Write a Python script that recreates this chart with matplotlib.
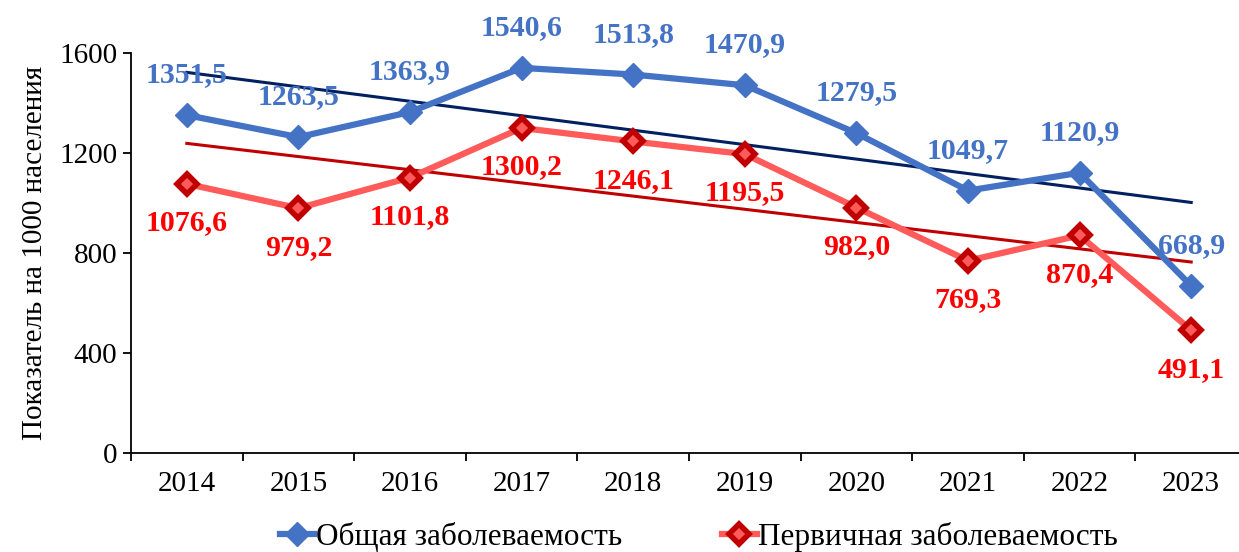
import numpy as np
import matplotlib.pyplot as plt
from matplotlib.ticker import FixedLocator

plt.rcParams['font.family'] = ['Liberation Serif', 'DejaVu Serif']

years = ['2014', '2015', '2016', '2017', '2018', '2019', '2020', '2021', '2022', '2023']
total = [1351.5, 1263.5, 1363.9, 1540.6, 1513.8, 1470.9, 1279.5, 1049.7, 1120.9, 668.9]
primary = [1076.6, 979.2, 1101.8, 1300.2, 1246.1, 1195.5, 982.0, 769.3, 870.4, 491.1]
yticks = [0, 400, 800, 1200, 1600]

blue = '#4472C4'
red_line = '#FF5B5B'
red_dark = '#C00000'

x = np.arange(len(years))

fig = plt.figure(figsize=(12.39, 5.52), dpi=100)
ax = fig.add_axes([131/1239, 1 - 453/552, 1116/1239, 400/552])

# trend lines
for vals, col in [(total, '#002060'), (primary, red_dark)]:
    k, b = np.polyfit(x, vals, 1)
    ax.plot(x, k*x + b, color=col, lw=2.2, zorder=2)

ax.plot(x, total, color=blue, lw=4.5, marker='D', ms=12, mfc=blue, mec=blue,
        mew=1, label='Общая заболеваемость', zorder=3)
ax.plot(x, primary, color=red_line, lw=4.5, marker='D', ms=10.5, mfc=red_line, mec=red_dark,
        mew=4, label='Первичная заболеваемость', zorder=3)

for i in range(len(years)):
    ax.annotate(f'{total[i]:.1f}'.replace('.', ','), (x[i], total[i]), xytext=(0, 29),
                textcoords='offset points', ha='center', va='center',
                fontsize=21.5, fontweight='bold', color=blue, annotation_clip=False)
    ax.annotate(f'{primary[i]:.1f}'.replace('.', ','), (x[i], primary[i]), xytext=(0, -28),
                textcoords='offset points', ha='center', va='center',
                fontsize=21.5, fontweight='bold', color='#FF0000', annotation_clip=False)

ax.set_xlim(-0.5, len(years) - 0.5)
ax.set_ylim(0, 1600)
ax.set_yticks(yticks)
ax.set_xticks(x)
ax.set_xticklabels(years)
ax.xaxis.set_minor_locator(FixedLocator(np.arange(-0.5, len(years), 1)))
ax.tick_params(axis='x', which='major', length=0, pad=13, labelsize=21)
ax.tick_params(axis='x', which='minor', length=6, width=1.3, direction='out')
ax.tick_params(axis='y', length=6, width=1.3, direction='out', labelsize=21, pad=4)
for s in ['top', 'right']:
    ax.spines[s].set_visible(False)
for s in ['left', 'bottom']:
    ax.spines[s].set_linewidth(1.3)
ax.set_ylabel('Показатель на 1000 населения', fontsize=21, labelpad=8)

ax.legend(loc='center', bbox_to_anchor=(0.5 + 10/1116, -0.21), ncol=2, frameon=False,
          fontsize=22.5, handlelength=1.1, handletextpad=0.05, columnspacing=3.2)

fig.savefig('out.png', dpi=100)
